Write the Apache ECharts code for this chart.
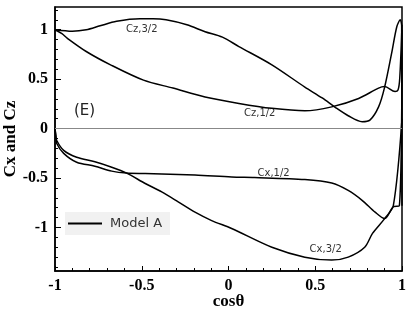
<!DOCTYPE html>
<html>
<head>
<meta charset="utf-8">
<script src="https://cdn.jsdelivr.net/npm/echarts@6/dist/echarts.min.js"></script>
<style>
  html, body { margin: 0; padding: 0; background: #fff; }
  #main { width: 409px; height: 327px; }
</style>
</head>
<body>
<div id="main"></div>
<script>
// values (cos theta, coefficient)
var czThreeHalfX = [-1, -0.9, -0.82, -0.74, -0.645, -0.51, -0.435, -0.36, -0.24, -0.135, -0.035, 0.06, 0.25, 0.44, 0.54, 0.615, 0.69, 0.77, 0.815, 0.865, 0.9, 0.94, 0.97, 0.99, 0.998, 1.0];
var czThreeHalfY = [1.0, 0.985, 1.0, 1.04, 1.085, 1.11, 1.11, 1.10, 1.05, 0.98, 0.925, 0.83, 0.645, 0.42, 0.31, 0.215, 0.13, 0.07, 0.086, 0.22, 0.42, 0.76, 1.03, 1.10, 1.04, -0.78];

var czHalfX = [-1, -0.96, -0.93, -0.82, -0.68, -0.49, -0.32, -0.135, 0.06, 0.25, 0.44, 0.595, 0.75, 0.865, 0.9, 0.96, 0.977, 0.987, 1.0];
var czHalfY = [1.0, 0.96, 0.915, 0.78, 0.645, 0.49, 0.41, 0.32, 0.255, 0.205, 0.18, 0.22, 0.305, 0.41, 0.425, 0.375, 0.39, 0.51, 1.05];

var cxHalfX = [-1, -0.995, -0.99, -0.95, -0.875, -0.77, -0.673, -0.587, -0.48, -0.193, 0.018, 0.15, 0.44, 0.595, 0.69, 0.77, 0.845, 0.9, 0.95, 0.985, 1.0];
var cxHalfY = [0, -0.08, -0.15, -0.25, -0.34, -0.38, -0.43, -0.45, -0.455, -0.47, -0.49, -0.495, -0.515, -0.55, -0.625, -0.725, -0.845, -0.91, -0.79, -0.78, 1.0];

var cxThreeHalfX = [-1, -0.995, -0.99, -0.95, -0.875, -0.77, -0.673, -0.587, -0.48, -0.385, -0.29, -0.193, -0.097, 0.018, 0.25, 0.44, 0.595, 0.69, 0.785, 0.83, 0.9, 0.95, 1.0];
var cxThreeHalfY = [0, -0.07, -0.12, -0.22, -0.29, -0.335, -0.39, -0.45, -0.555, -0.64, -0.74, -0.845, -0.93, -1.01, -1.2, -1.30, -1.33, -1.30, -1.2, -1.06, -0.91, -0.78, 0.1];

var majorY = [-1, -0.5, 0, 0.5, 1];
var minorY = [-1.4, -1.3, -1.2, -1.1, -0.9, -0.8, -0.7, -0.6, -0.4, -0.3, -0.2, -0.1, 0.1, 0.2, 0.3, 0.4, 0.6, 0.7, 0.8, 0.9, 1.1, 1.2];

// curve annotations: [text, cos theta, value]
var curveLabels = [
  ['Cz,3/2', -0.5, 1.0],
  ['Cz,1/2', 0.18, 0.15],
  ['Cx,1/2', 0.26, -0.45],
  ['Cx,3/2', 0.56, -1.22],
  ['(E)', -0.83, 0.18]
];

function pairs(xs, ys) {
  return xs.map(function (x, i) { return [x, ys[i]]; });
}

var myChart = echarts.init(document.getElementById('main'));
var serif = 'Liberation Serif, DejaVu Serif, serif';
var sans = 'DejaVu Sans, Noto Sans, sans-serif';

var lineSeries = function (xs, ys) {
  return {
    name: 'Model A',
    type: 'line',
    data: pairs(xs, ys),
    showSymbol: false,
    symbol: 'none',
    smooth: 0.3,
    lineStyle: { color: '#000', width: 1.5 },
    itemStyle: { color: '#000' },
    silent: true
  };
};

var option = {
  animation: false,
  grid: {
    left: 55, right: 7, top: 7, bottom: 56,
    containLabel: false, outerBoundsMode: 'none',
    show: true, borderColor: '#000', borderWidth: 1.5,
    backgroundColor: 'transparent'
  },
  legend: {
    left: 65, top: 212,
    backgroundColor: '#f1f1f1',
    padding: [5, 8, 5, 3],
    icon: 'rect',
    itemWidth: 34, itemHeight: 2,
    itemGap: 5,
    textStyle: { fontFamily: sans, fontSize: 13, color: '#333', padding: [0, 0, 0, 3] },
    data: ['Model A']
  },
  xAxis: {
    type: 'value', min: -1, max: 1, interval: 0.5,
    name: 'cosθ', nameLocation: 'middle', nameGap: 22, nameMoveOverlap: false,
    nameTextStyle: { fontFamily: serif, fontWeight: 'bold', fontSize: 17, color: '#000' },
    axisLine: { onZero: false, lineStyle: { color: '#000', width: 1.5 } },
    axisTick: { inside: true, length: 5, lineStyle: { color: '#000' } },
    minorTick: { show: true, splitNumber: 5, length: 3, lineStyle: { color: '#000' } },
    splitLine: { show: false },
    axisLabel: { fontFamily: serif, fontWeight: 'bold', fontSize: 16, color: '#000', margin: 7 }
  },
  yAxis: [{
    type: 'value', min: -1.44, max: 1.23,
    name: 'Cx and Cz', nameLocation: 'middle', nameGap: 36, nameMoveOverlap: false,
    nameTextStyle: { fontFamily: serif, fontWeight: 'bold', fontSize: 17, color: '#000' },
    axisLine: { onZero: false, lineStyle: { color: '#000', width: 1.5 } },
    axisTick: { inside: true, length: 6, customValues: majorY, lineStyle: { color: '#000' } },
    axisLabel: { customValues: majorY, fontFamily: serif, fontWeight: 'bold', fontSize: 16, color: '#000', margin: 7 },
    splitLine: { show: false }
  }, {
    type: 'value', min: -1.44, max: 1.23, position: 'left', offset: 0,
    axisLine: { show: false, onZero: false },
    axisTick: { inside: true, length: 3, customValues: minorY, lineStyle: { color: '#000' } },
    axisLabel: { show: false },
    splitLine: { show: false }
  }],
  series: [
    lineSeries(czThreeHalfX, czThreeHalfY),
    lineSeries(czHalfX, czHalfY),
    lineSeries(cxHalfX, cxHalfY),
    lineSeries(cxThreeHalfX, cxThreeHalfY),
    {
      name: 'zero', type: 'line', data: [], silent: true,
      markLine: {
        symbol: 'none', silent: true, label: { show: false },
        lineStyle: { color: '#888', width: 1, type: 'solid' },
        data: [{ yAxis: 0 }]
      }
    }
  ]
};
myChart.setOption(option);

myChart.setOption({
  graphic: curveLabels.map(function (c) {
    var p = myChart.convertToPixel({ xAxisIndex: 0, yAxisIndex: 0 }, [c[1], c[2]]);
    var big = c[0] === '(E)';
    return {
      type: 'text', x: p[0], y: p[1],
      style: {
        text: c[0], fill: big ? '#222' : '#333',
        font: (big ? '15px ' : '10px ') + sans,
        align: 'center', verticalAlign: 'middle'
      }
    };
  })
});
</script>
</body>
</html>
